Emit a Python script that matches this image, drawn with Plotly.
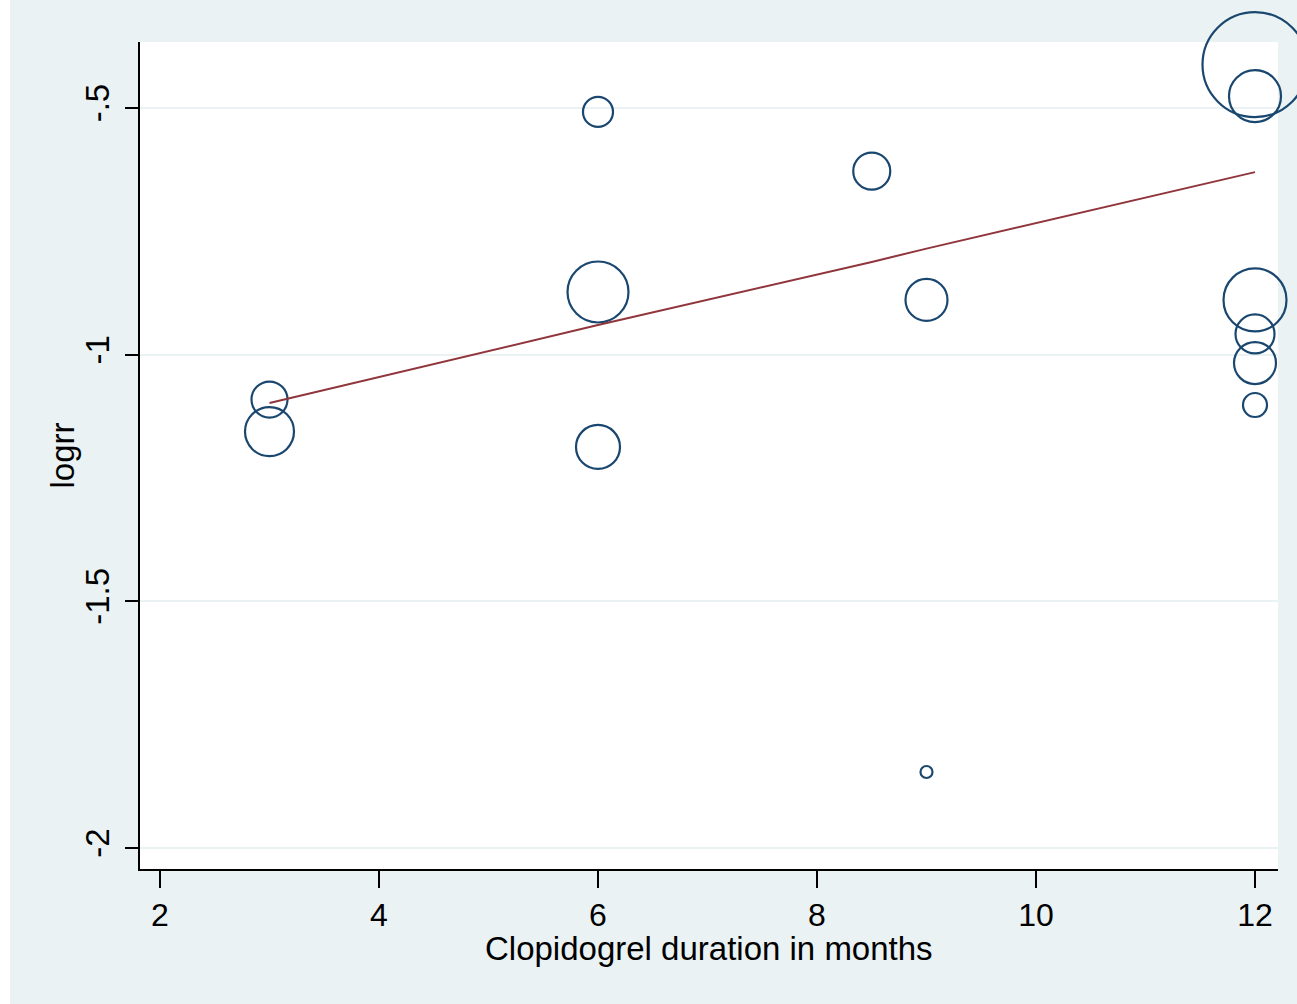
import plotly.graph_objects as go

# Study-level data
duration = [3, 3, 6, 6, 6, 8.5, 9, 9, 12, 12, 12, 12, 12, 12]
logrr = [-1.091, -1.156, -0.508, -0.873, -1.187, -0.628, -0.889, -1.846,
         -0.412, -0.476, -0.889, -0.958, -1.017, -1.102]
weight_size = [36, 49, 30, 61, 44, 37, 42, 12, 105, 52, 63, 39, 42, 24]

# Fitted meta-regression line
fit_x = [3, 6, 8.5, 9, 12]
fit_y = [-1.098, -0.940, -0.812, -0.785, -0.630]

xticks = [2, 4, 6, 8, 10, 12]
xtick_text = ["2", "4", "6", "8", "10", "12"]
yticks = [-0.5, -1, -1.5, -2]
ytick_text = ["-.5", "-1", "-1.5", "-2"]

NAVY = "#1A476F"
MAROON = "#90353B"
BG = "#EAF2F3"
FONT = "Liberation Sans, Arial, sans-serif"

fig = go.Figure()
fig.add_trace(go.Scatter(
    x=duration, y=logrr, mode="markers",
    marker=dict(size=weight_size, sizemode="diameter", color="rgba(0,0,0,0)",
                opacity=1, line=dict(color=NAVY, width=2.2)),
    cliponaxis=False, showlegend=False, hoverinfo="x+y"))
fig.add_trace(go.Scatter(
    x=fit_x, y=fit_y, mode="lines",
    line=dict(color=MAROON, width=2),
    cliponaxis=False, showlegend=False))

W, H = 1297, 1004
L, R, T, B = 140, 19, 42, 135
pw, ph = W - L - R, H - T - B

fig.update_layout(
    width=W, height=H,
    margin=dict(l=L, r=R, t=T, b=B, pad=0),
    paper_bgcolor=BG, plot_bgcolor="white",
    font=dict(family=FONT, size=33, color="black"),
    showlegend=False,
    xaxis=dict(range=[1.8174, 12.210], tickvals=xticks, ticktext=xtick_text,
               showgrid=False, zeroline=False, showline=True, linecolor="black",
               linewidth=2, ticks="outside", ticklen=17, tickwidth=2, tickcolor="black",
               tickfont=dict(size=32)),
    yaxis=dict(range=[-2.0426, -0.3662], tickvals=yticks, ticktext=ytick_text,
               showgrid=True, gridcolor=BG, gridwidth=1.5, zeroline=False,
               showline=True, linecolor="black", linewidth=2,
               ticks="outside", ticklen=13, tickwidth=2, tickcolor="black",
               tickangle=-90, tickfont=dict(size=33), ticklabelstandoff=3),
    annotations=[
        dict(text="Clopidogrel duration in months", xref="paper", yref="paper",
             x=(709 - L) / pw, y=(H - B - 949) / ph, xanchor="center", yanchor="middle",
             showarrow=False, font=dict(size=33)),
        dict(text="logrr", xref="paper", yref="paper", textangle=-90,
             x=(62 - L) / pw, y=0.5, xanchor="center", yanchor="middle",
             showarrow=False, font=dict(size=33)),
    ],
    shapes=[
        dict(type="rect", xref="paper", yref="paper", layer="above",
             x0=-L / pw - 0.01, x1=(10 - L) / pw, y0=-B / ph - 0.01, y1=(H - T) / ph + 0.01,
             fillcolor="white", line=dict(width=0)),
        dict(type="rect", xref="paper", yref="paper", layer="above",
             x0=-L / pw - 0.01, x1=(W - L) / pw + 0.01, y0=(H - T - 5) / ph, y1=(H - T) / ph + 0.01,
             fillcolor="white", line=dict(width=0)),
    ],
)

fig.write_html("out.html", config={"displayModeBar": False},
               post_script="document.body.style.margin='0';document.body.style.overflow='hidden';")
